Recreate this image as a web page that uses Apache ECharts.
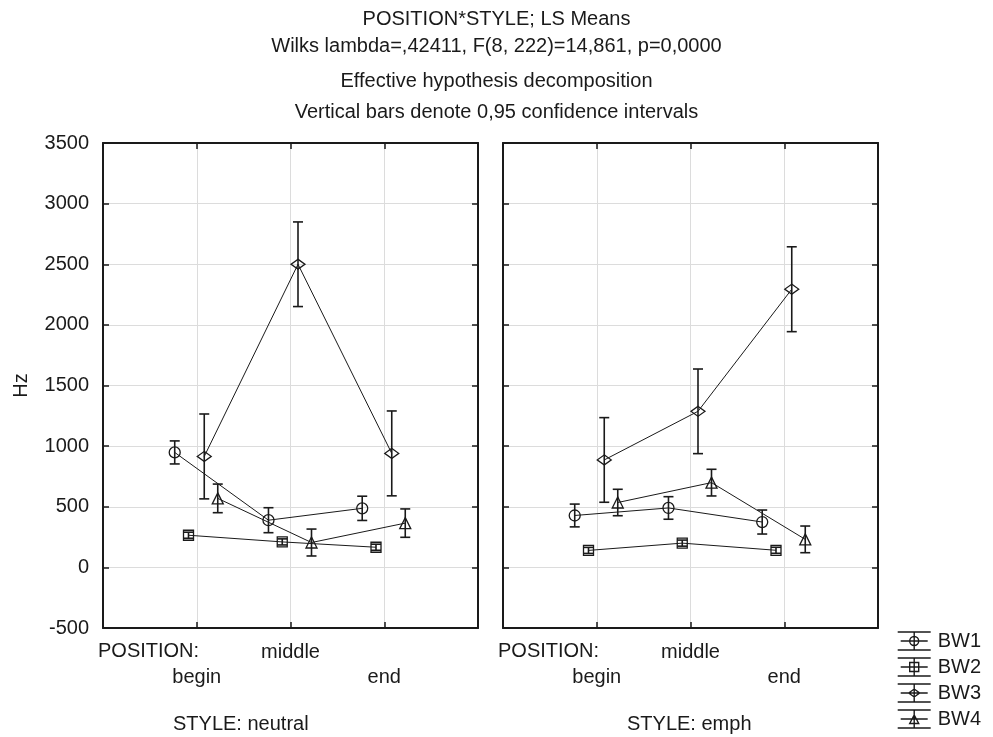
<!DOCTYPE html>
<html>
<head>
<meta charset="utf-8">
<script src="https://cdn.jsdelivr.net/npm/echarts@6.0.0/dist/echarts.min.js"></script>
<style>
  html, body { margin: 0; padding: 0; background: #fff; }
  #chart { width: 993px; height: 737px; }
</style>
</head>
<body>
<div id="chart"></div>
<script>
// POSITION levels and the two STYLE panels
const positions = ['begin', 'middle', 'end']
const styles = ['neutral', 'emph']
const seriesNames = ['BW1', 'BW2', 'BW3', 'BW4']

// LS means (Hz), one row per BW, columns = begin / middle / end
const neutralMeans = [
  [948, 389, 487],
  [265, 210, 166],
  [915, 2500, 940],
  [569, 205, 365]
]
const emphMeans = [
  [428, 490, 374],
  [140, 200, 141],
  [886, 1287, 2294],
  [535, 699, 231]
]

// half width of the 0,95 confidence interval
const neutralCI = [
  [95, 103, 100],
  [25, 25, 25],
  [350, 349, 350],
  [118, 111, 117]
]
const emphCI = [
  [94, 93, 99],
  [25, 25, 25],
  [349, 349, 350],
  [109, 110, 110]
]

const INK = '#1a1a1a'
const FONT = 'Liberation Sans'
const FS = 20
const DODGE = [-0.235, -0.088, 0.08, 0.224]
const SYMBOLS = ['circle', 'rect', 'diamond', 'triangle']
const SYMBOL_SIZE = [11, 10, [14, 10], 11]

const LEGEND_ICONS = [
  'M0 1 L33 1 M0 19 L33 19 M3 10 L30 10 M16.5 1 L16.5 19 M12 10 A4.5 4.5 0 1 1 21 10 A4.5 4.5 0 1 1 12 10',
  'M0 1 L33 1 M0 19 L33 19 M3 10 L30 10 M16.5 1 L16.5 19 M12 5.5 L21 5.5 L21 14.5 L12 14.5 Z',
  'M0 1 L33 1 M0 19 L33 19 M3 10 L30 10 M16.5 1 L16.5 19 M11 10 L16.5 6 L22 10 L16.5 14 Z',
  'M0 1 L33 1 M0 19 L33 19 M3 10 L30 10 M16.5 1 L16.5 19 M12 14.5 L16.5 6 L21 14.5 Z'
]

const grids = [
  { left: 103, top: 143, width: 375, height: 485 },
  { left: 503, top: 143, width: 375, height: 485 }
]

function posLabel(v) {
  if (v === 2) return positions[1]
  if (v === 1) return '\n' + positions[0]
  if (v === 3) return '\n' + positions[2]
  return ''
}

function errorBarItem(params, api) {
  const x = api.value(0)
  const top = api.coord([x, api.value(2)])
  const bot = api.coord([x, api.value(1)])
  const w = 5
  const style = { stroke: INK, lineWidth: 1.6 }
  return {
    type: 'group',
    children: [
      { type: 'line', shape: { x1: top[0], y1: top[1], x2: bot[0], y2: bot[1] }, style },
      { type: 'line', shape: { x1: top[0] - w, y1: top[1], x2: top[0] + w, y2: top[1] }, style },
      { type: 'line', shape: { x1: bot[0] - w, y1: bot[1], x2: bot[0] + w, y2: bot[1] }, style }
    ]
  }
}

function buildOption() {
  const frameLine = { show: true, onZero: false, lineStyle: { color: INK, width: 2 } }
  const innerTick = { show: true, inside: true, length: 6, lineStyle: { color: INK, width: 1.5 } }
  const gridLine = { show: true, lineStyle: { color: '#dcdcdc', width: 1 } }
  const xAxis = []
  const yAxis = []
  grids.forEach((g, gi) => {
    xAxis.push({
      type: 'value', gridIndex: gi, min: 0, max: 4, interval: 1, position: 'bottom',
      axisLine: frameLine, axisTick: innerTick,
      axisLabel: { formatter: posLabel, color: INK, fontSize: FS, fontFamily: FONT, lineHeight: 25, margin: 12, showMinLabel: false, showMaxLabel: false },
      splitLine: gridLine
    })
    xAxis.push({
      type: 'value', gridIndex: gi, min: 0, max: 4, interval: 1, position: 'top',
      axisLine: frameLine, axisTick: innerTick,
      axisLabel: { show: false },
      splitLine: { show: false }
    })
    yAxis.push({
      type: 'value', gridIndex: gi, min: -500, max: 3500, interval: 500, position: 'left',
      name: gi === 0 ? 'Hz' : '', nameLocation: 'middle', nameGap: 72, nameRotate: 90,
      nameTextStyle: { color: INK, fontSize: FS, fontFamily: FONT },
      axisLine: frameLine, axisTick: innerTick,
      axisLabel: { show: gi === 0, formatter: (v) => String(v), color: INK, fontSize: FS, fontFamily: FONT, margin: 14 },
      splitLine: gridLine
    })
    yAxis.push({
      type: 'value', gridIndex: gi, min: -500, max: 3500, interval: 500, position: 'right',
      axisLine: frameLine, axisTick: innerTick,
      axisLabel: { show: false },
      splitLine: { show: false }
    })
  })

  const series = []
  const panels = [[neutralMeans, neutralCI], [emphMeans, emphCI]]
  panels.forEach(([means, ci], gi) => {
    seriesNames.forEach((name, si) => {
      const xs = positions.map((p, pi) => pi + 1 + DODGE[si])
      series.push({
        name, type: 'custom', xAxisIndex: gi * 2, yAxisIndex: gi * 2,
        renderItem: errorBarItem,
        encode: { x: 0, y: [1, 2] },
        data: xs.map((x, pi) => [x, means[si][pi] - ci[si][pi], means[si][pi] + ci[si][pi]]),
        silent: true, z: 3
      })
      series.push({
        name, type: 'line', xAxisIndex: gi * 2, yAxisIndex: gi * 2,
        data: xs.map((x, pi) => [x, means[si][pi]]),
        symbol: SYMBOLS[si], symbolSize: SYMBOL_SIZE[si],
        lineStyle: { color: INK, width: 1 },
        itemStyle: { color: 'rgba(255,255,255,0)', borderColor: INK, borderWidth: 1.3 },
        z: 4
      })
    })
  })

  const titleLines = [
    ['POSITION*STYLE; LS Means', 9],
    ['Wilks lambda=,42411, F(8, 222)=14,861, p=0,0000', 36],
    ['Effective hypothesis decomposition', 71],
    ['Vertical bars denote 0,95 confidence intervals', 102]
  ]
  const textStyle = { color: INK, fontSize: FS, fontWeight: 'normal', fontFamily: FONT }
  const title = titleLines.map(([text, top]) => ({ text, left: 'center', top, padding: 0, textStyle }))
  title.push({ text: 'POSITION:', left: 98, top: 641, padding: 0, textStyle })
  title.push({ text: 'POSITION:', left: 498, top: 641, padding: 0, textStyle })
  title.push({ text: 'STYLE: ' + styles[0], left: 173, top: 714, padding: 0, textStyle })
  title.push({ text: 'STYLE: ' + styles[1], left: 627, top: 714, padding: 0, textStyle })

  return {
    backgroundColor: '#fff',
    animation: false,
    title,
    grid: grids,
    xAxis,
    yAxis,
    legend: {
      orient: 'vertical', left: 897, top: 631, padding: 0,
      itemWidth: 33, itemHeight: 19, itemGap: 6,
      data: seriesNames.map((n, i) => ({ name: n, icon: 'path://' + LEGEND_ICONS[i] })),
      itemStyle: { color: 'rgba(255,255,255,0)', borderColor: INK, borderWidth: 1.4 },
      textStyle: { color: INK, fontSize: FS, fontFamily: FONT, padding: [0, 0, 0, 2] },
      selectedMode: false
    },
    series
  }
}

const chart = echarts.init(document.getElementById('chart'), null, { renderer: 'canvas' })
chart.setOption(buildOption())
</script>
</body>
</html>
